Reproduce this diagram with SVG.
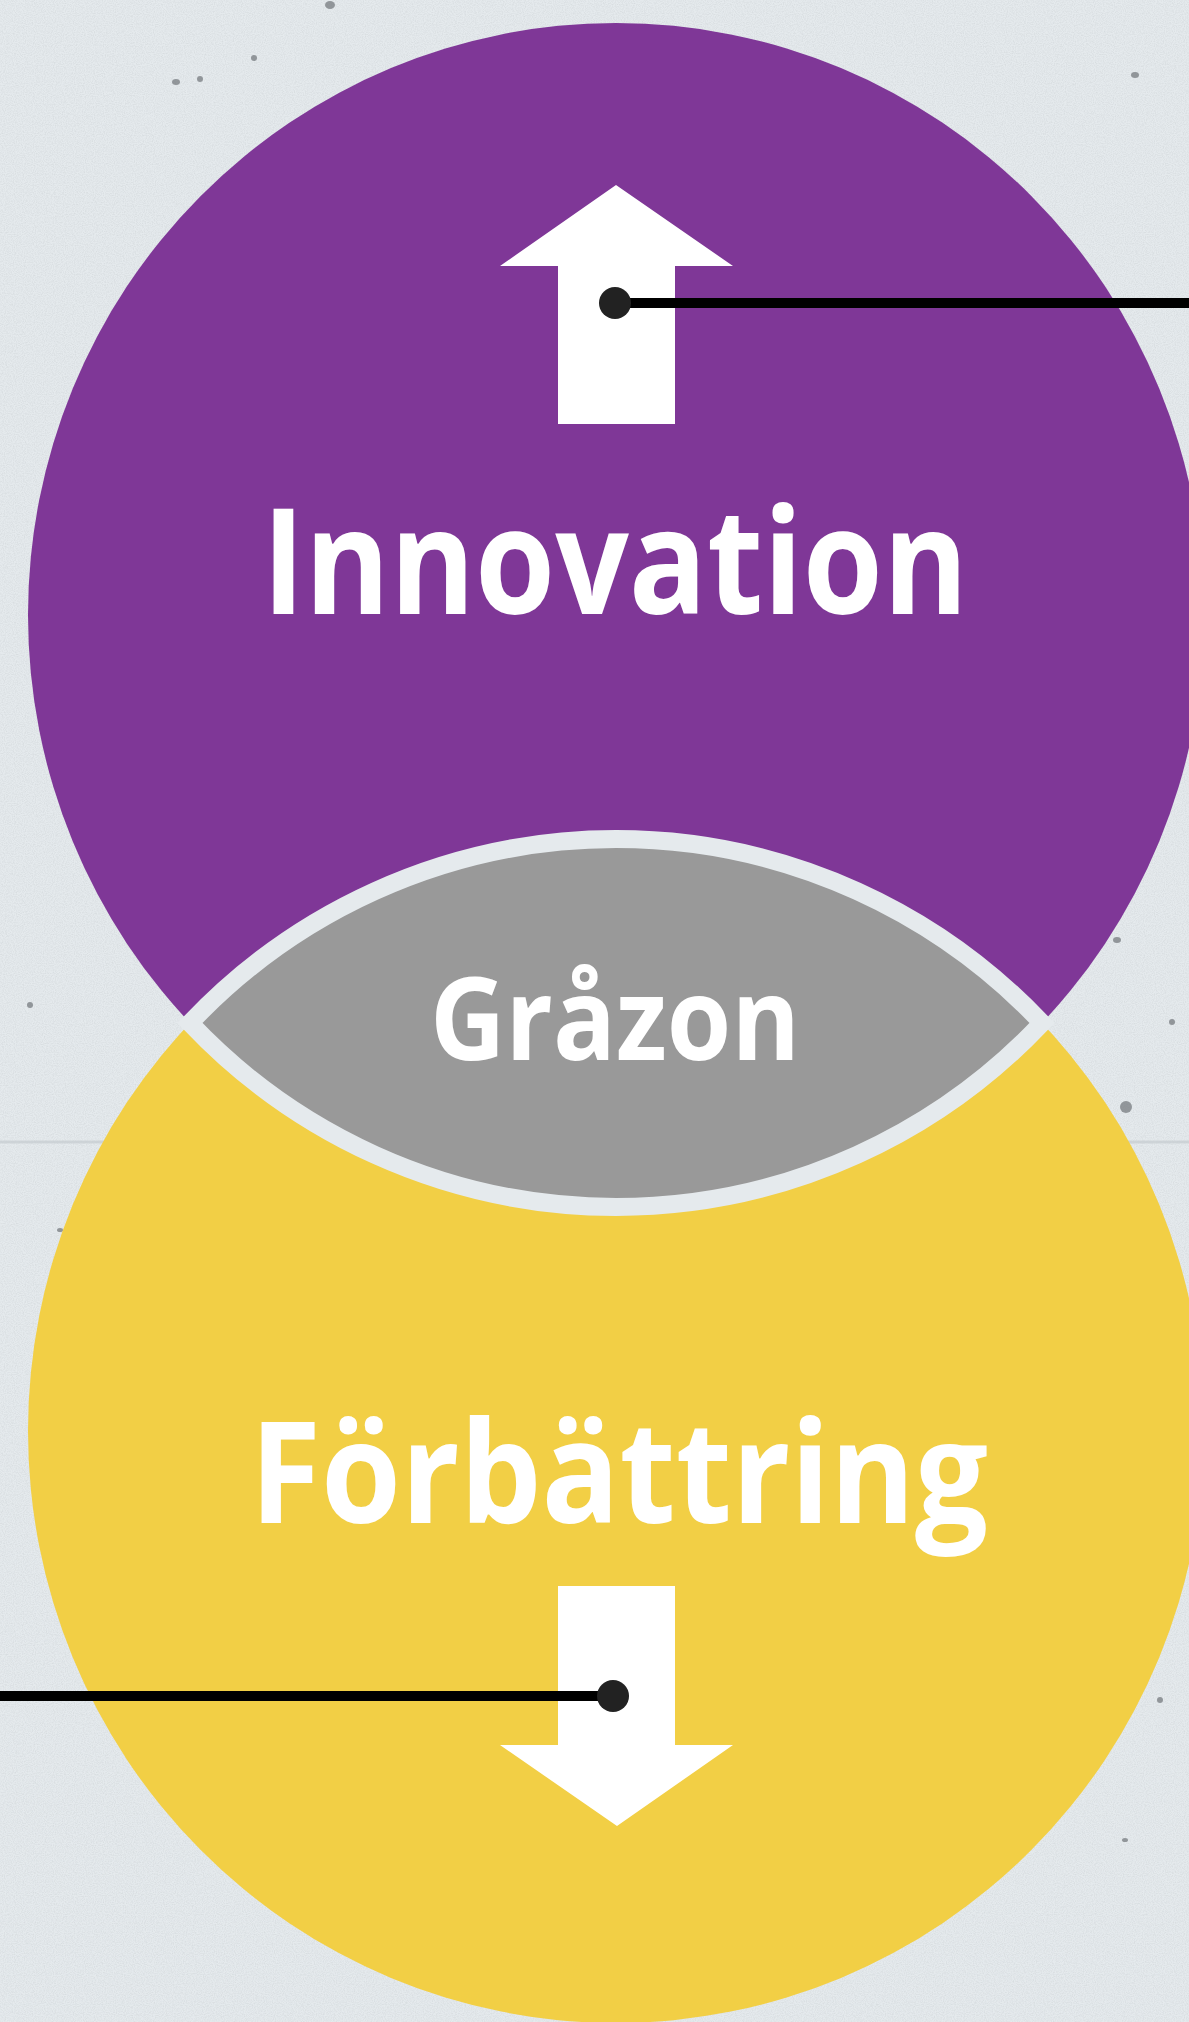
<svg xmlns="http://www.w3.org/2000/svg" width="1189" height="2022" viewBox="0 0 1189 2022">
  <defs>
    <filter id="grain" x="0" y="0" width="100%" height="100%">
      <feTurbulence type="fractalNoise" baseFrequency="0.9" numOctaves="2" seed="7" result="n"/>
      <feColorMatrix in="n" type="matrix" values="0 0 0 0 0.45  0 0 0 0 0.48  0 0 0 0 0.5  0 0 0 -1.6 1.05"/>
    </filter>
    <style>
      .bg { fill: #e5eaed; }
      .lbl { font-family: "Open Sans", Lato, "DejaVu Sans", sans-serif; font-weight: bold; fill: #ffffff; text-anchor: middle; }
      .arrow { fill: #ffffff; }
      .wire { stroke: #000000; stroke-width: 10; stroke-linecap: round; fill: none; }
      .dot { fill: #222222; }
      .speck { fill: #6f7477; opacity: 0.7; }
    </style>
  </defs>

  <!-- background -->
  <rect class="bg" x="0" y="0" width="1189" height="2022"/>
  <rect x="0" y="0" width="1189" height="2022" filter="url(#grain)" opacity="0.3"/>
  <line x1="0" y1="1142" x2="1189" y2="1142" stroke="#c9cfd3" stroke-width="3" opacity="0.8"/>
  <g>
    <ellipse class="speck" cx="330" cy="5" rx="5" ry="4"/>
    <ellipse class="speck" cx="176" cy="82" rx="4" ry="3"/>
    <ellipse class="speck" cx="200" cy="79" rx="3" ry="3"/>
    <ellipse class="speck" cx="254" cy="58" rx="3" ry="3"/>
    <ellipse class="speck" cx="1117" cy="940" rx="4" ry="3"/>
    <ellipse class="speck" cx="1126" cy="1107" rx="6" ry="6"/>
    <ellipse class="speck" cx="1172" cy="1022" rx="3" ry="3"/>
    <ellipse class="speck" cx="1135" cy="75" rx="4" ry="3"/>
    <ellipse class="speck" cx="30" cy="1005" rx="3" ry="3"/>
    <ellipse class="speck" cx="1160" cy="1700" rx="3" ry="3"/>
    <ellipse class="speck" cx="1125" cy="1840" rx="3" ry="2"/>
    <ellipse class="speck" cx="60" cy="1230" rx="3" ry="2"/>
  </g>

  <!-- nodes -->
  <g id="innovation">
    <ellipse cx="616" cy="615" rx="588" ry="592" fill="#7f3797"/>
  </g>
  <g id="forbattring">
    <ellipse cx="616" cy="1431" rx="588" ry="592" fill="#f2cf45"/>
  </g>
  <g id="grazon">
    <path d="M190,1023 A588,592 0 0,1 1042,1023 A588,592 0 0,1 190,1023 Z" fill="#999999" stroke="#e5eaed" stroke-width="18" stroke-linejoin="miter" stroke-miterlimit="3"/>
    <text class="lbl" x="615" y="1060" font-size="115" textLength="370" lengthAdjust="spacingAndGlyphs">Gråzon</text>
  </g>
  <g id="innovation-label">
    <path class="arrow" d="M616,185 L733,266 L675,266 L675,424 L558,424 L558,266 L500,266 Z"/>
    <text class="lbl" x="615" y="614" font-size="148" textLength="706" lengthAdjust="spacingAndGlyphs">Innovation</text>
  </g>
  <g id="forbattring-label">
    <text class="lbl" x="619" y="1523" font-size="141" textLength="738" lengthAdjust="spacingAndGlyphs">Förbättring</text>
    <path class="arrow" d="M558,1586 L675,1586 L675,1745 L733,1745 L617,1826 L500,1745 L558,1745 Z"/>
  </g>

  <!-- connectors -->
  <g id="connectors">
    <line class="wire" x1="615" y1="303" x2="1195" y2="303"/>
    <circle class="dot" cx="615" cy="303" r="16"/>
    <line class="wire" x1="-6" y1="1696" x2="613" y2="1696"/>
    <circle class="dot" cx="613" cy="1696" r="16"/>
  </g>
</svg>
